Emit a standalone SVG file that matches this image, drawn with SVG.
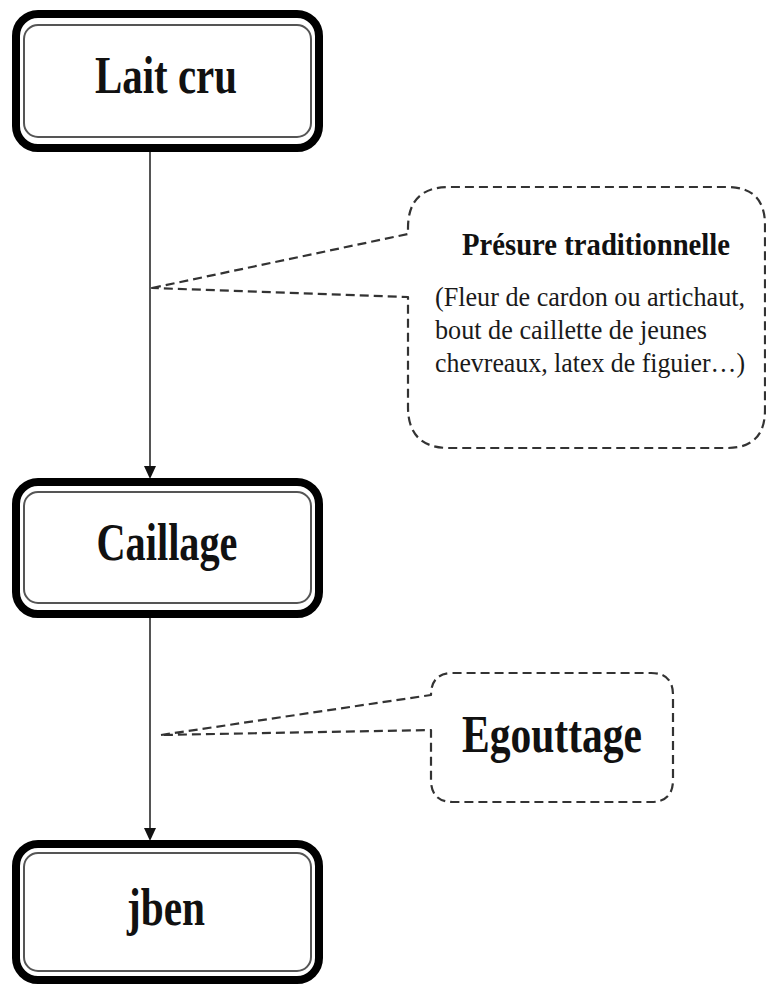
<svg xmlns="http://www.w3.org/2000/svg" width="766" height="986" viewBox="0 0 766 986">
  <style>
    .outer { fill: #ffffff; stroke: #000000; stroke-width: 8; }
    .inner { fill: none; stroke: #555555; stroke-width: 2; }
    .node-text { font-family: "Liberation Serif", "Times New Roman", serif; font-weight: bold; font-size: 52px; fill: #111111; text-anchor: middle; }
    .callout { fill: #ffffff; stroke: #333333; stroke-width: 2.2; stroke-dasharray: 9 5; stroke-linejoin: round; }
    .title { font-family: "Liberation Serif", "Times New Roman", serif; font-weight: bold; font-size: 32px; fill: #111111; text-anchor: middle; }
    .body { font-family: "Liberation Serif", "Times New Roman", serif; font-size: 27px; fill: #1a1a1a; }
    .big { font-family: "Liberation Serif", "Times New Roman", serif; font-weight: bold; font-size: 52px; fill: #111111; text-anchor: middle; }
    .conn { stroke: #555555; stroke-width: 2; fill: none; }
  </style>
  <defs>
    <marker id="arrow" markerUnits="userSpaceOnUse" markerWidth="13" markerHeight="12" viewBox="0 0 13 12" refX="0" refY="6" orient="auto">
      <path d="M0,0 L13,6 L0,12 Z" fill="#111111"/>
    </marker>
  </defs>
  <rect width="766" height="986" fill="#ffffff"/>

  <g id="connectors">
    <line class="conn" x1="150" y1="152" x2="150" y2="466" marker-end="url(#arrow)"/>
    <line class="conn" x1="150" y1="618" x2="150" y2="828" marker-end="url(#arrow)"/>
  </g>

  <g id="callout-presure">
    <path class="callout" d="M152,288 L408,234 L408,228 Q408,187 449,187 L727,187 Q765,187 765,225 L765,410 Q765,448 727,448 L449,448 Q408,448 408,407 L408,297 Z"/>
    <text class="title" x="596" y="255" textLength="268" lengthAdjust="spacingAndGlyphs">Présure traditionnelle</text>
    <text class="body" x="435" y="306" textLength="310" lengthAdjust="spacingAndGlyphs">(Fleur de cardon ou artichaut,</text>
    <text class="body" x="435" y="339" textLength="272" lengthAdjust="spacingAndGlyphs">bout de caillette de jeunes</text>
    <text class="body" x="435" y="372" textLength="310" lengthAdjust="spacingAndGlyphs">chevreaux, latex de figuier…)</text>
  </g>

  <g id="callout-egouttage">
    <path class="callout" d="M161,735 L431,695 Q431,673 453,673 L651,673 Q673,673 673,695 L673,780 Q673,802 651,802 L453,802 Q431,802 431,780 L431,730 Z"/>
    <text class="big" x="552" y="752" textLength="180" lengthAdjust="spacingAndGlyphs">Egouttage</text>
  </g>

  <g id="node-lait-cru">
    <rect class="outer" x="16" y="14" width="303" height="134" rx="22" ry="22"/>
    <rect class="inner" x="24" y="25" width="287" height="112" rx="14" ry="14"/>
    <text class="node-text" x="166" y="93" textLength="142" lengthAdjust="spacingAndGlyphs">Lait cru</text>
  </g>

  <g id="node-caillage">
    <rect class="outer" x="16" y="482" width="303" height="132" rx="22" ry="22"/>
    <rect class="inner" x="24" y="492" width="287" height="111" rx="14" ry="14"/>
    <text class="node-text" x="167" y="560" textLength="141" lengthAdjust="spacingAndGlyphs">Caillage</text>
  </g>

  <g id="node-jben">
    <rect class="outer" x="16" y="844" width="303" height="136" rx="22" ry="22"/>
    <rect class="inner" x="24" y="853" width="287" height="118" rx="14" ry="14"/>
    <text class="node-text" x="166" y="925" textLength="78" lengthAdjust="spacingAndGlyphs">jben</text>
  </g>
</svg>
